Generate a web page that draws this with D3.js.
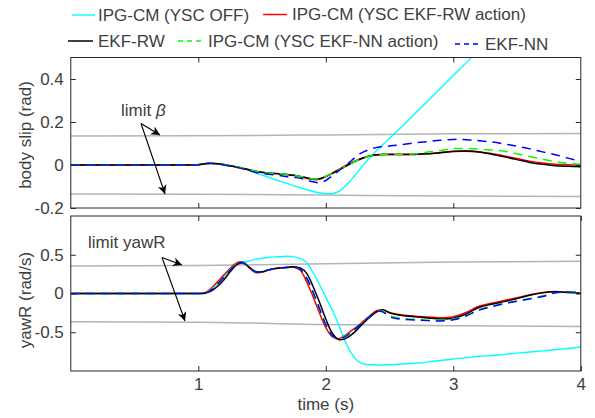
<!DOCTYPE html>
<html>
<head>
<meta charset="utf-8">
<script src="https://cdn.jsdelivr.net/npm/d3@7/dist/d3.min.js"></script>
<style>
  html, body { margin: 0; padding: 0; background: #fff; }
  svg { display: block; font-family: "Liberation Sans", Arial, Helvetica, sans-serif; }
</style>
</head>
<body>
<svg id="chart" width="595" height="418"></svg>
<script>
// Sample times (s) shared by every trace
const time = [0, 0.5, 0.9, 0.95, 1.00, 1.05, 1.10, 1.15, 1.20, 1.25, 1.30, 1.35, 1.40, 1.45, 1.50,
  1.55, 1.60, 1.65, 1.70, 1.75, 1.80, 1.85, 1.90, 1.95, 2.00, 2.05, 2.10, 2.15, 2.20, 2.25, 2.30,
  2.35, 2.40, 2.45, 2.50, 2.55, 2.60, 2.70, 2.80, 2.90, 3.00, 3.10, 3.20, 3.30, 3.40, 3.50, 3.60,
  3.70, 3.80, 3.90, 4.00];

// Body slip angle (rad)
const betaYscOff = [0, 0, 0, 0, 0.001, 0.006, 0.008, 0.006, 0.002, -0.003, -0.009, -0.016, -0.026, -0.036,
  -0.047, -0.057, -0.067, -0.077, -0.087, -0.097, -0.106, -0.115, -0.123, -0.129, -0.133, -0.133, -0.124,
  -0.100, -0.068, -0.032, 0.004, 0.037, 0.068, 0.097, 0.124, 0.152, 0.180, 0.239, 0.298, 0.357, 0.416,
  0.475, 0.534, 0.593, null, null, null, null, null, null, null];
const betaYscRW = [0, 0, 0, 0, 0.001, 0.006, 0.008, 0.006, 0.002, -0.004, -0.010, -0.016, -0.023, -0.030,
  -0.035, -0.038, -0.040, -0.042, -0.045, -0.049, -0.055, -0.062, -0.068, -0.066, -0.054, -0.038, -0.021,
  -0.004, 0.011, 0.024, 0.035, 0.043, 0.047, 0.048, 0.048, 0.048, 0.048, 0.049, 0.052, 0.058, 0.064,
  0.066, 0.062, 0.053, 0.042, 0.030, 0.018, 0.009, 0.003, 0.001, 0.000];
const betaEkfRW = [0, 0, 0, 0, 0.001, 0.006, 0.008, 0.006, 0.002, -0.003, -0.009, -0.015, -0.022, -0.029,
  -0.034, -0.037, -0.039, -0.041, -0.044, -0.048, -0.053, -0.059, -0.065, -0.064, -0.053, -0.040, -0.024,
  -0.008, 0.008, 0.022, 0.034, 0.043, 0.048, 0.050, 0.050, 0.050, 0.050, 0.050, 0.052, 0.057, 0.063,
  0.064, 0.060, 0.050, 0.038, 0.025, 0.012, 0.003, -0.003, -0.006, -0.008];
const betaYscNN = [0, 0, 0, 0, 0.001, 0.006, 0.008, 0.006, 0.002, -0.003, -0.009, -0.015, -0.022, -0.029,
  -0.034, -0.037, -0.039, -0.041, -0.044, -0.048, -0.053, -0.059, -0.065, -0.064, -0.053, -0.040, -0.024,
  -0.008, 0.008, 0.022, 0.034, 0.043, 0.047, 0.049, 0.050, 0.050, 0.050, 0.052, 0.060, 0.068, 0.076,
  0.077, 0.074, 0.070, 0.064, 0.052, 0.040, 0.027, 0.016, 0.008, 0.003];
const betaEkfNN = [0, 0, 0, 0, 0.001, 0.006, 0.007, 0.004, 0.000, -0.005, -0.011, -0.018, -0.027, -0.035,
  -0.040, -0.043, -0.046, -0.050, -0.055, -0.058, -0.062, -0.070, -0.078, -0.082, -0.072, -0.050, -0.028,
  -0.005, 0.020, 0.045, 0.062, 0.074, 0.082, 0.086, 0.088, 0.092, 0.095, 0.103, 0.109, 0.115, 0.119,
  0.118, 0.113, 0.107, 0.098, 0.087, 0.075, 0.061, 0.048, 0.032, 0.016];

// Yaw rate (rad/s)
const yawYscOff = [0, 0, 0, 0, 0, 0.004, 0.045, 0.120, 0.210, 0.300, 0.380, 0.400, 0.420, 0.440, 0.455,
  0.465, 0.472, 0.475, 0.480, 0.472, 0.454, 0.400, 0.270, 0.120, -0.050, -0.210, -0.400, -0.610, -0.770,
  -0.870, -0.910, -0.920, -0.922, -0.922, -0.920, -0.915, -0.910, -0.900, -0.885, -0.865, -0.845, -0.830,
  -0.810, -0.800, -0.785, -0.770, -0.755, -0.740, -0.725, -0.710, -0.690];
const yawYscRW = [0, 0, 0, 0, 0, 0.010, 0.065, 0.150, 0.239, 0.325, 0.395, 0.405, 0.330, 0.270, 0.278,
  0.302, 0.320, 0.330, 0.337, 0.340, 0.300, 0.150, -0.040, -0.250, -0.440, -0.557, -0.585, -0.540, -0.480,
  -0.420, -0.350, -0.280, -0.220, -0.215, -0.245, -0.265, -0.278, -0.292, -0.302, -0.312, -0.300, -0.245,
  -0.165, -0.125, -0.090, -0.055, -0.015, 0.012, 0.025, 0.012, 0.000];
const yawEkfRW = [0, 0, 0, 0, 0, 0.003, 0.030, 0.090, 0.174, 0.280, 0.368, 0.395, 0.340, 0.285, 0.280,
  0.303, 0.322, 0.332, 0.338, 0.345, 0.330, 0.260, 0.090, -0.110, -0.330, -0.510, -0.595, -0.585, -0.535,
  -0.460, -0.375, -0.300, -0.235, -0.210, -0.250, -0.270, -0.283, -0.300, -0.315, -0.328, -0.320, -0.265,
  -0.180, -0.140, -0.105, -0.065, -0.022, 0.008, 0.022, 0.015, 0.002];
const yawYscNN = [0, 0, 0, 0, 0, 0.006, 0.050, 0.125, 0.215, 0.305, 0.382, 0.400, 0.335, 0.276, 0.279,
  0.303, 0.321, 0.330, 0.336, 0.340, 0.310, 0.190, 0.010, -0.200, -0.410, -0.545, -0.582, -0.550, -0.490,
  -0.425, -0.355, -0.285, -0.225, -0.230, -0.285, -0.310, -0.322, -0.335, -0.345, -0.345, -0.330, -0.285,
  -0.210, -0.165, -0.130, -0.095, -0.063, -0.030, 0.008, 0.010, 0.005];
const yawEkfNN = [0, 0, 0, 0, 0, 0.004, 0.045, 0.120, 0.210, 0.300, 0.380, 0.400, 0.336, 0.277, 0.280,
  0.304, 0.321, 0.331, 0.336, 0.340, 0.310, 0.200, 0.020, -0.190, -0.400, -0.540, -0.580, -0.560, -0.500,
  -0.430, -0.360, -0.290, -0.230, -0.240, -0.300, -0.322, -0.332, -0.342, -0.350, -0.355, -0.340, -0.290,
  -0.215, -0.170, -0.130, -0.100, -0.070, -0.040, 0.010, 0.020, 0.010];

// Stability limits
const limitTime = [0, 1, 2, 3, 4];
const betaLimitUpper = [0.135, 0.136, 0.140, 0.145, 0.147];
const betaLimitLower = [-0.135, -0.136, -0.140, -0.144, -0.146];
const yawLimitUpper = [0.355, 0.360, 0.385, 0.405, 0.415];
const yawLimitLower = [-0.364, -0.370, -0.400, -0.415, -0.425];

// Axis ticks
const timeTicks = [1, 2, 3, 4];
const timeTickLabels = ["1", "2", "3", "4"];
const betaTicks = [-0.2, 0, 0.2, 0.4];
const betaTickLabels = ["-0.2", "0", "0.2", "0.4"];
const yawTicks = [-0.5, 0, 0.5];
const yawTickLabels = ["-0.5", "0", "0.5"];

const seriesNames = ["IPG-CM (YSC OFF)", "IPG-CM (YSC EKF-RW action)", "EKF-RW",
  "IPG-CM (YSC EKF-NN action)", "EKF-NN"];

const styles = [
  { color: "#00ffff", width: 1.4, dash: null },
  { color: "#ff0000", width: 1.5, dash: null },
  { color: "#000000", width: 1.5, dash: null },
  { color: "#00ff00", width: 1.5, dash: "9,6" },
  { color: "#0000ff", width: 1.5, dash: "9,6" }
];

const textColor = "#404040";
const axisColor = "#262626";
const fontSize = 17;

const svg = d3.select("#chart");

const x = d3.scaleLinear().domain([0, 4]).range([70.8, 580.8]);

svg.append("defs").append("marker")
  .attr("id", "arrowhead")
  .attr("viewBox", "0 0 10 10")
  .attr("refX", 10).attr("refY", 5)
  .attr("markerWidth", 9).attr("markerHeight", 9)
  .attr("markerUnits", "userSpaceOnUse")
  .attr("orient", "auto")
  .append("path")
  .attr("d", "M0,0 L10,5 L0,10 L3,5 Z")
  .attr("fill", "#000");

function panel(opts) {
  const y = d3.scaleLinear().domain(opts.domain).range([opts.bottom, opts.top]);
  const g = svg.append("g");
  const clipId = opts.id + "-clip";
  svg.select("defs").append("clipPath").attr("id", clipId)
    .append("rect")
    .attr("x", x.range()[0]).attr("y", opts.top)
    .attr("width", x.range()[1] - x.range()[0]).attr("height", opts.bottom - opts.top);

  const plot = g.append("g").attr("clip-path", `url(#${clipId})`);

  const limLine = d3.line()
    .x((d, i) => x(limitTime[i]))
    .y(d => y(d))
    .curve(d3.curveMonotoneX);
  [opts.limUpper, opts.limLower].forEach(arr => {
    plot.append("path").attr("d", limLine(arr))
      .attr("fill", "none").attr("stroke", "#b4b4b4").attr("stroke-width", 1.5);
  });

  const line = d3.line()
    .defined(d => d !== null)
    .x((d, i) => x(time[i]))
    .y(d => y(d))
    .curve(d3.curveCatmullRom.alpha(0.5));

  opts.series.forEach((arr, k) => {
    const st = styles[k];
    plot.append("path")
      .attr("d", line(arr))
      .attr("fill", "none")
      .attr("stroke", st.color)
      .attr("stroke-width", st.width)
      .attr("stroke-dasharray", st.dash)
      .attr("stroke-linejoin", "round");
  });

  // Box
  g.append("rect")
    .attr("x", x.range()[0]).attr("y", opts.top)
    .attr("width", x.range()[1] - x.range()[0]).attr("height", opts.bottom - opts.top)
    .attr("fill", "none").attr("stroke", axisColor).attr("stroke-width", 1);

  const styleAxis = sel => {
    sel.select(".domain").remove();
    sel.selectAll(".tick line").attr("stroke", axisColor).attr("stroke-width", 1);
    sel.selectAll(".tick text")
      .attr("fill", textColor)
      .style("font-size", fontSize + "px")
      .style("font-family", '"Liberation Sans", Arial, sans-serif');
  };

  const yLabelOf = v => opts.tickLabels[opts.ticks.indexOf(v)];
  g.append("g").attr("transform", `translate(${x.range()[0]},0)`)
    .call(d3.axisLeft(y).tickValues(opts.ticks).tickFormat(yLabelOf).tickSize(-5).tickPadding(7))
    .call(styleAxis);
  g.append("g").attr("transform", `translate(${x.range()[1]},0)`)
    .call(d3.axisRight(y).tickValues(opts.ticks).tickFormat("").tickSize(-5))
    .call(styleAxis);
  g.append("g").attr("transform", `translate(0,${opts.top})`)
    .call(d3.axisTop(x).tickValues(opts.xTicks).tickFormat("").tickSize(-5))
    .call(styleAxis);
  const xLabelOf = v => opts.xLabels ? timeTickLabels[timeTicks.indexOf(v)] : "";
  g.append("g").attr("transform", `translate(0,${opts.bottom})`)
    .call(d3.axisBottom(x).tickValues(opts.xTicks).tickFormat(xLabelOf).tickSize(-5).tickPadding(7))
    .call(styleAxis);

  // y-axis title
  g.append("text")
    .attr("transform", `translate(${opts.labelX},${opts.labelY}) rotate(-90)`)
    .attr("text-anchor", "middle")
    .attr("dominant-baseline", "central")
    .attr("fill", textColor)
    .style("font-size", fontSize + "px")
    .text(opts.label);

  return y;
}

panel({
  id: "beta", domain: [-0.2, 0.5], top: 57.5, bottom: 208,
  ticks: betaTicks, tickLabels: betaTickLabels,
  xTicks: [1, 2, 3], xLabels: false,
  limUpper: betaLimitUpper, limLower: betaLimitLower,
  series: [betaYscOff, betaYscRW, betaEkfRW, betaYscNN, betaEkfNN],
  label: "body slip (rad)", labelX: 25, labelY: 135
});

panel({
  id: "yaw", domain: [-1, 1], top: 216, bottom: 371,
  ticks: yawTicks, tickLabels: yawTickLabels,
  xTicks: timeTicks, xLabels: true,
  limUpper: yawLimitUpper, limLower: yawLimitLower,
  series: [yawYscOff, yawYscRW, yawEkfRW, yawYscNN, yawEkfNN],
  label: "yawR (rad/s)", labelX: 25, labelY: 300
});

// x-axis title
svg.append("text")
  .attr("x", 325.8).attr("y", 410)
  .attr("text-anchor", "middle")
  .attr("fill", textColor)
  .style("font-size", fontSize + "px")
  .text("time (s)");

// Legend
const legendItems = [
  { k: 0, x1: 72, x2: 95, y: 15, tx: 98 },
  { k: 1, x1: 263, x2: 287, y: 14.5, tx: 292 },
  { k: 2, x1: 68, x2: 93, y: 41, tx: 98 },
  { k: 3, x1: 178, x2: 203, y: 41, tx: 208 },
  { k: 4, x1: 455, x2: 480, y: 44, tx: 485 }
];
const legend = svg.append("g");
legendItems.forEach(it => {
  const st = styles[it.k];
  legend.append("line")
    .attr("x1", it.x1).attr("x2", it.x2).attr("y1", it.y).attr("y2", it.y)
    .attr("stroke", st.color).attr("stroke-width", st.width)
    .attr("stroke-dasharray", st.dash ? "5,4" : null);
  legend.append("text")
    .attr("x", it.tx).attr("y", it.y)
    .attr("dominant-baseline", "central")
    .attr("fill", textColor)
    .style("font-size", fontSize + "px")
    .text(seriesNames[it.k]);
});

// Limit annotations with arrows
const notes = svg.append("g");
const betaNote = notes.append("text")
  .attr("x", 121).attr("y", 116)
  .attr("fill", textColor)
  .style("font-size", fontSize + "px");
betaNote.append("tspan").text("limit ");
betaNote.append("tspan").style("font-style", "italic").text("β");

notes.append("text")
  .attr("x", 88).attr("y", 248)
  .attr("fill", textColor)
  .style("font-size", fontSize + "px")
  .text("limit yawR");

const arrows = [
  [141, 123.5, 160, 135],
  [141, 123.5, 165, 194],
  [162, 257.5, 182, 265],
  [162, 257.5, 185, 321]
];
arrows.forEach(a => {
  notes.append("line")
    .attr("x1", a[0]).attr("y1", a[1]).attr("x2", a[2]).attr("y2", a[3])
    .attr("stroke", "#000").attr("stroke-width", 1.1)
    .attr("marker-end", "url(#arrowhead)");
});
</script>
</body>
</html>
